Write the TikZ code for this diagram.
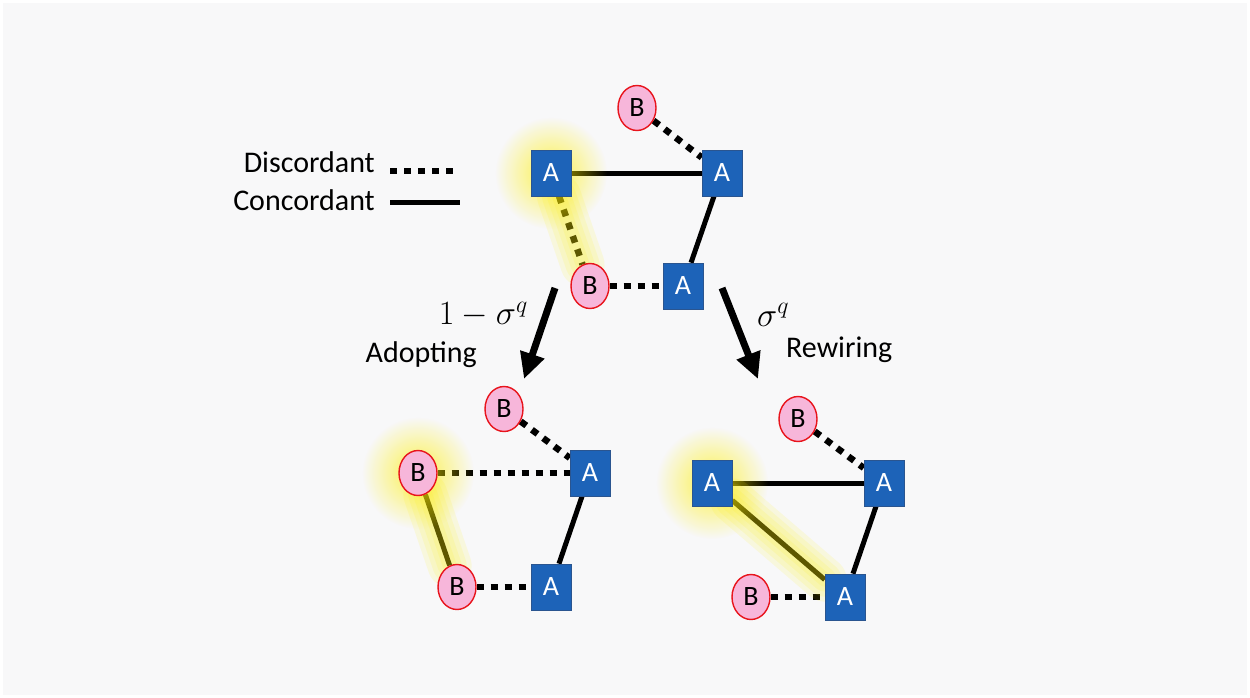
\RequirePackage{fix-cm}
\documentclass[tikz,border=0pt]{standalone}
\usepackage{fontspec}
\setmainfont{Carlito}
\usetikzlibrary{shapes.geometric,arrows.meta,fadings}
\definecolor{bgc}{HTML}{F8F8F9}
\definecolor{ablue}{HTML}{1D63B8}
\definecolor{aedge}{HTML}{2A5590}
\definecolor{bpink}{HTML}{F7B6DA}
\definecolor{bred}{HTML}{E8141C}
\definecolor{glowc}{HTML}{FFF000}
\tikzfading[name=glowfade, inner color=transparent!30, outer color=transparent!100]
\pgfdeclarelayer{bglayer}
\pgfdeclarelayer{edgelayer}
\pgfdeclarelayer{glowlayer}
\pgfsetlayers{bglayer,edgelayer,glowlayer,main}
\tikzset{
  anode/.style={rectangle, fill=ablue, draw=aedge, line width=0.6pt, minimum width=40pt, minimum height=46pt, inner sep=0pt, text=white, font=\fontsize{28}{30}\selectfont},
  bnode/.style={ellipse, fill=bpink, draw=bred, line width=1.4pt, minimum width=38pt, minimum height=45pt, inner sep=0pt, text=black, font=\fontsize{28}{30}\selectfont},
  conc/.style={line width=5pt, black},
  disc/.style={line width=6.5pt, black, dash pattern=on 7pt off 7pt},
  bigarrow/.style={line width=7pt, -{Triangle[length=26pt,width=24pt]}},
  lbl/.style={font=\fontsize{30}{34}\selectfont, inner sep=0pt},
  mlbl/.style={font=\fontsize{34}{38}\selectfont, inner sep=0pt},
  glowline/.style={glowc, line cap=round, opacity=0.11},
}
\newcommand{\glownode}[1]{\fill[glowc, path fading=glowfade] (#1) circle (56pt);}
\newcommand{\glowedge}[2]{%
  \draw[glowline, line width=44pt] (#1) -- (#2);
  \draw[glowline, line width=34pt] (#1) -- (#2);
  \draw[glowline, line width=24pt] (#1) -- (#2);
  \draw[glowline, line width=14pt] (#1) -- (#2);}
\begin{document}
\begin{tikzpicture}[x=1pt,y=-1pt]
\begin{pgfonlayer}{bglayer}
\fill[white] (0,0) rectangle (1250,698);
\fill[bgc] (3,3) rectangle (1247,695);
\end{pgfonlayer}
\useasboundingbox (0,0) rectangle (1250,698);

% legend
\node[lbl, anchor=east] (ldisc) at (375,162) {Discordant};
\node[lbl, anchor=east] (lconc) at (375,200) {Concordant};
\coordinate (ld1) at (390,171); \coordinate (ld2) at (458,171);
\coordinate (lc1) at (390,202); \coordinate (lc2) at (460,202);
\draw[disc] (ld1) -- (ld2);
\draw[conc] (lc1) -- (lc2);

% top graph
\node[bnode] (tB1) at (637,108) {B};
\node[anode] (tA1) at (551,173) {A};
\node[anode] (tA2) at (722,173) {A};
\node[bnode] (tB2) at (590,286) {B};
\node[anode] (tA3) at (683,286) {A};
\begin{pgfonlayer}{edgelayer}
\draw[disc] (tB1) -- (tA2);
\draw[conc] (tA1) -- (tA2);
\draw[conc] (tA2) -- (tA3);
\draw[disc] (tA1) -- (tB2);
\draw[disc] (tB2) -- (tA3);
\end{pgfonlayer}
\begin{pgfonlayer}{glowlayer}
\glownode{tA1}
\glowedge{tA1}{tB2}
\end{pgfonlayer}

% arrows and labels
\coordinate (al1) at (555,288); \coordinate (al2) at (524,379);
\coordinate (ar1) at (722,288); \coordinate (ar2) at (758,379);
\draw[bigarrow] (al1) -- (al2);
\draw[bigarrow] (ar1) -- (ar2);
\node[mlbl, anchor=east] (mleft) at (528,315) {$1-\sigma^q$};
\node[mlbl, anchor=west] (mright) at (757,315) {$\sigma^q$};
\node[lbl, anchor=east] (adopt) at (477,355) {Adopting};
\node[lbl, anchor=west] (rewire) at (786,350) {Rewiring};

% bottom left graph
\node[bnode] (lB1) at (504,409) {B};
\node[bnode] (lB2) at (418,473) {B};
\node[anode] (lA1) at (590,473) {A};
\node[bnode] (lB3) at (457,587) {B};
\node[anode] (lA2) at (551,587) {A};
\begin{pgfonlayer}{edgelayer}
\draw[disc] (lB1) -- (lA1);
\draw[disc] (lB2) -- (lA1);
\draw[conc] (lB2) -- (lB3);
\draw[conc] (lA1) -- (lA2);
\draw[disc] (lB3) -- (lA2);
\end{pgfonlayer}
\begin{pgfonlayer}{glowlayer}
\glownode{lB2}
\glowedge{lB2}{lB3}
\end{pgfonlayer}

% bottom right graph
\node[bnode] (rB1) at (798,419) {B};
\node[anode] (rA1) at (712,483) {A};
\node[anode] (rA2) at (884,483) {A};
\node[anode] (rA3) at (845,597) {A};
\node[bnode] (rB2) at (751,597) {B};
\begin{pgfonlayer}{edgelayer}
\draw[disc] (rB1) -- (rA2);
\draw[conc] (rA1) -- (rA2);
\draw[conc] (rA1) -- (rA3);
\draw[conc] (rA2) -- (rA3);
\draw[disc] (rB2) -- (rA3);
\end{pgfonlayer}
\begin{pgfonlayer}{glowlayer}
\glownode{rA1}
\glowedge{rA1}{rA3}
\end{pgfonlayer}
\end{tikzpicture}
\end{document}
